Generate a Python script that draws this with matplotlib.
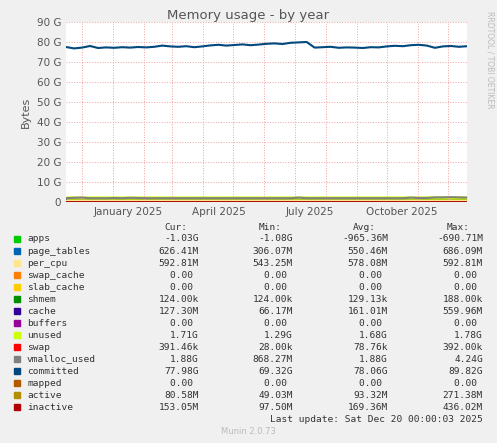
import numpy as np
import matplotlib
matplotlib.use("Agg")
import matplotlib.pyplot as plt
import matplotlib.dates as mdates
import datetime as dt

start = dt.datetime(2024, 11, 15)
committed = [77.5,76.8,77.2,78.0,77.0,77.3,77.1,77.4,77.2,77.5,77.3,77.6,78.2,77.8,77.6,77.9,77.4,77.8,78.3,78.6,78.2,78.5,78.8,78.4,78.7,79.1,79.3,79.0,79.6,79.8,80.0,77.2,77.4,77.6,77.1,77.3,77.2,77.0,77.4,77.3,77.8,78.1,77.9,78.4,78.6,78.2,77.1,77.8,78.0,77.6,77.9]
unused = [1.70,1.72,1.68,1.70,1.71,1.69,1.70,1.68,1.67,1.69,1.70,1.71,1.68,1.70,1.69,1.68,1.70,1.71,1.69,1.68,1.70,1.71,1.69,1.70,1.68,1.69,1.70,1.71,1.70,1.69,1.70,1.68,1.69,1.70,1.71,1.69,1.70,1.70,1.69,1.70,1.71,1.72,1.70,1.69,1.71,1.72,1.70,1.71,1.72,1.71,1.71]
vmalloc = [1.9,2.1,2.2,1.9,1.9,1.9,2.0,1.9,2.1,2.0,1.9,1.9,1.9,1.9,1.9,1.9,1.9,1.9,1.9,1.9,1.9,1.9,1.9,1.9,1.9,1.9,1.9,1.9,1.9,2.2,1.9,1.9,1.9,1.9,1.9,1.9,1.9,1.9,1.9,1.9,1.9,1.9,1.9,2.2,2.0,2.0,2.3,2.3,2.4,2.3,2.2]
n = len(committed)
dates = [start + dt.timedelta(days=400*i/(n-1)) for i in range(n)]

names = ["apps","page_tables","per_cpu","swap_cache","slab_cache","shmem","cache","buffers","unused","swap","vmalloc_used","committed","mapped","active","inactive"]
colors = ["#00CC00","#0066B3","#FFE68A","#FF8000","#FFCC00","#008F00","#330099","#990099","#CCFF00","#FF0000","#808080","#00487D","#B35A00","#B38F00","#B30000"]
cur = ["-1.03G","626.41M","592.81M","0.00","0.00","124.00k","127.30M","0.00","1.71G","391.46k","1.88G","77.98G","0.00","80.58M","153.05M"]
mn = ["-1.08G","306.07M","543.25M","0.00","0.00","124.00k","66.17M","0.00","1.29G","28.00k","868.27M","69.32G","0.00","49.03M","97.50M"]
avg = ["-965.36M","550.46M","578.08M","0.00","0.00","129.13k","161.01M","0.00","1.68G","78.76k","1.88G","78.06G","0.00","93.32M","169.36M"]
mx = ["-690.71M","686.09M","592.81M","0.00","0.00","188.00k","559.96M","0.00","1.78G","392.00k","4.24G","89.82G","0.00","271.38M","436.02M"]

fig = plt.figure(figsize=(4.97, 4.43), dpi=100, facecolor="#F0F0F0")
ax = fig.add_axes([66/497, 1-202/443, 401/497, 180/443])
ax.set_facecolor("white")
x = mdates.date2num(dates)
pt = np.full(n, 0.62); pc = np.full(n, 0.59); ca = np.full(n, 0.14)
base = np.zeros(n)
for v, c in [(pt, "#0066B3"), (pc, "#FFE68A"), (ca, "#330099"), (np.array(unused), "#CCFF00")]:
    ax.fill_between(x, base, base + v, color=c, lw=0)
    base = base + v
ax.plot(x, vmalloc, color="#808080", lw=1.5)
ax.plot(x, committed, color="#00487D", lw=1.5)
ax.plot(x, np.full(n, 0.09), color="#B38F00", lw=1.2)
ax.plot(x, np.full(n, 0.16), color="#B30000", lw=2)

ax.set_xlim(mdates.date2num(start), mdates.date2num(start + dt.timedelta(days=400)))
ax.set_ylim(0, 90)
ax.set_yticks(range(0, 91, 10))
ax.set_yticklabels(["0"] + [f"{v} G" for v in range(10, 91, 10)])
ax.xaxis.set_major_locator(mdates.MonthLocator(bymonth=[1, 4, 7, 10], bymonthday=16))
ax.xaxis.set_major_formatter(mdates.DateFormatter("%B %Y"))
ax.xaxis.set_minor_locator(mdates.MonthLocator())
ax.tick_params(which="both", length=0, labelsize=7.5, colors="#555555")
ax.grid(which="minor", axis="x", color="#F0A0A0", ls=":", lw=0.7)
ax.grid(which="major", axis="y", color="#F0A0A0", ls=":", lw=0.7)
ax.grid(which="major", axis="x", visible=False)
for s in ax.spines.values():
    s.set_visible(False)
ax.set_ylabel("Bytes", fontsize=8, color="#555555")
fig.text(0.5, 1-19/443, "Memory usage - by year", ha="center", fontsize=9.5, color="#555555")
fig.text(490/497, 1-60/443, "RRDTOOL / TOBI OETIKER", rotation=270, ha="center", va="center", fontsize=5.5, color="#BBBBBB")

fs = 6.8
mono = "DejaVu Sans Mono"
for xp, h in [(187, "Cur:"), (282, "Min:"), (376, "Avg:"), (470, "Max:")]:
    fig.text(xp/497, 1-228/443, h, ha="right", va="center", fontsize=fs, family=mono, color="#333333")
def fmt(v):
    return v if v[-1] in "GMk" else v + " "
for i, nm in enumerate(names):
    yy = 1 - (239 + i*12.0)/443
    fig.patches.append(plt.Rectangle((14/497, yy - 3/443), 6/497, 6/443, transform=fig.transFigure, color=colors[i]))
    fig.text(27/497, yy, nm, fontsize=fs, family=mono, color="#333333", va="center")
    for xp, vals in [(199, cur), (293, mn), (388, avg), (483, mx)]:
        fig.text(xp/497, yy, fmt(vals[i]), ha="right", fontsize=fs, family=mono, color="#333333", va="center")
fig.text(483/497, 1-419/443, "Last update: Sat Dec 20 00:00:03 2025", ha="right", va="center", fontsize=fs, family=mono, color="#333333")
fig.text(0.5, 1-432/443, "Munin 2.0.73", ha="center", va="center", fontsize=6, color="#BBBBBB")
fig.savefig("out.png", dpi=100, facecolor=fig.get_facecolor())
